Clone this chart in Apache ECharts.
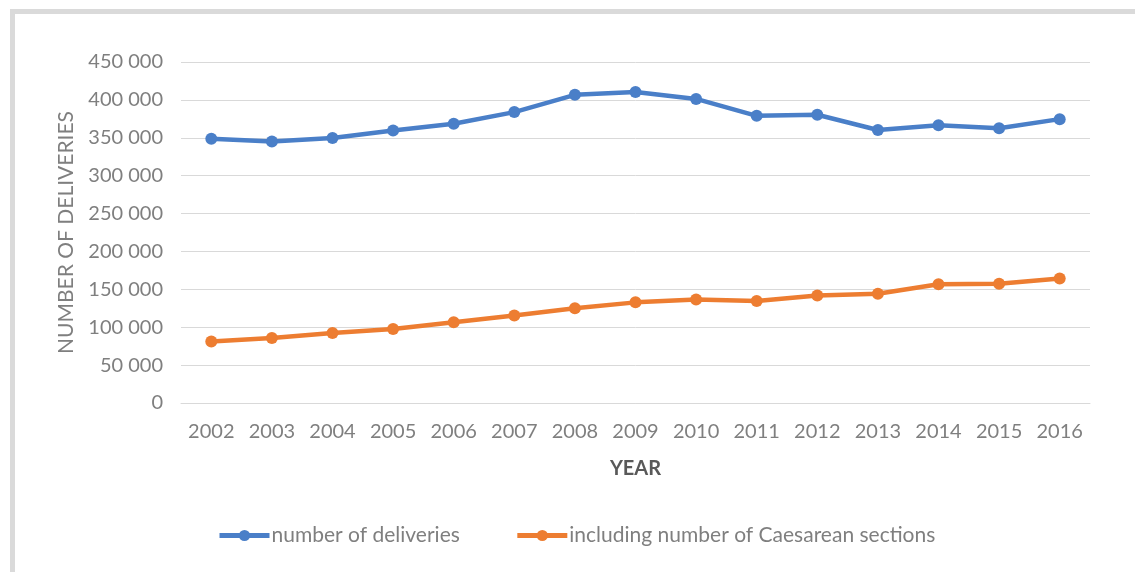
<!DOCTYPE html>
<html>
<head>
<meta charset="utf-8">
<script src="https://cdn.jsdelivr.net/npm/echarts@6/dist/echarts.min.js"></script>
<style>
  html, body { margin: 0; padding: 0; background: #ffffff; }
  #chart { width: 1135px; height: 572px; }
</style>
</head>
<body>
<div id="chart"></div>
<script>
// Years on the horizontal axis
const years = ['2002', '2003', '2004', '2005', '2006', '2007', '2008', '2009',
               '2010', '2011', '2012', '2013', '2014', '2015', '2016'];

// Total deliveries per year
const deliveries = [348700, 345100, 349600, 359700, 368500, 383900, 406700, 410300,
                    401300, 379000, 380400, 360300, 366500, 362500, 374600];

// Of which Caesarean sections
const caesareans = [81300, 85700, 92400, 97800, 106700, 115600, 125000, 132800,
                    136700, 134500, 142000, 144200, 156600, 157500, 164200];

const seriesNames = ['number of deliveries', 'including number of Caesarean sections'];

const FONT = 'Lato, "Open Sans", sans-serif';
const TEXT_GRAY = '#7f7f7f';

// "450 000" style thousands separator
function fmt(v) {
  return String(v).replace(/\B(?=(\d{3})+(?!\d))/g, ' ');
}

const chart = echarts.init(document.getElementById('chart'), null, { renderer: 'canvas' });

chart.setOption({
  backgroundColor: '#ffffff',
  animation: false,
  graphic: [
    // light frame along the top and left edges
    { type: 'rect', shape: { x: 10, y: 9, width: 1125, height: 5 }, style: { fill: '#dadada' }, silent: true },
    { type: 'rect', shape: { x: 10, y: 9, width: 5, height: 563 }, style: { fill: '#dadada' }, silent: true }
  ],
  grid: { left: 181, right: 45, top: 62, bottom: 169, containLabel: false },
  legend: {
    top: 520,
    left: 212,
    itemWidth: 50,
    itemHeight: 14,
    itemGap: 55,
    lineStyle: { width: 5 },
    textStyle: { fontFamily: FONT, fontSize: 21, color: TEXT_GRAY, padding: [0, 0, 0, -3] },
    data: seriesNames
  },
  xAxis: {
    type: 'category',
    data: years,
    boundaryGap: true,
    name: 'YEAR',
    nameLocation: 'middle',
    nameGap: 56,
    nameTextStyle: { fontFamily: FONT, fontSize: 20, fontWeight: 'bold', color: '#595959' },
    axisLine: { show: true, lineStyle: { color: '#d9d9d9', width: 1 } },
    axisTick: { show: false },
    axisLabel: { fontFamily: FONT, fontSize: 20, color: TEXT_GRAY, margin: 19 }
  },
  yAxis: {
    type: 'value',
    min: 0,
    max: 450000,
    interval: 50000,
    name: 'NUMBER OF DELIVERIES',
    nameLocation: 'middle',
    nameGap: 104,
    nameRotate: 90,
    nameTextStyle: { fontFamily: FONT, fontSize: 21, color: TEXT_GRAY },
    axisLine: { show: false },
    axisTick: { show: false },
    splitLine: { lineStyle: { color: '#d9d9d9', width: 1 } },
    axisLabel: { fontFamily: FONT, fontSize: 20, color: TEXT_GRAY, margin: 18, formatter: fmt }
  },
  series: [
    {
      name: seriesNames[0],
      type: 'line',
      data: deliveries,
      symbol: 'circle',
      symbolSize: 12,
      lineStyle: { color: '#4a7fc8', width: 4.5 },
      itemStyle: { color: '#4a7fc8' }
    },
    {
      name: seriesNames[1],
      type: 'line',
      data: caesareans,
      symbol: 'circle',
      symbolSize: 12,
      lineStyle: { color: '#ed7d31', width: 4.5 },
      itemStyle: { color: '#ed7d31' }
    }
  ]
});
</script>
</body>
</html>
